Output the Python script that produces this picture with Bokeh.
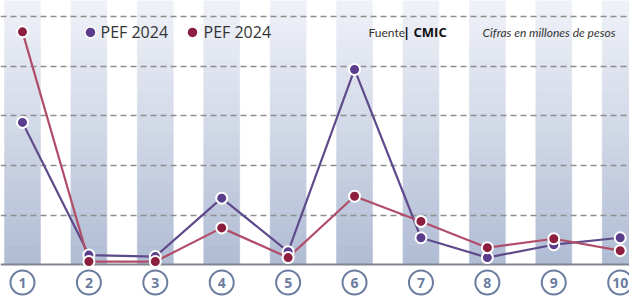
from bokeh.plotting import figure
from bokeh.models import Range1d, Label
from bokeh.embed import file_html
from bokeh.resources import INLINE
from bokeh.core.properties import value
import numpy as np

# ---- data ----
categories = [1, 2, 3, 4, 5, 6, 7, 8, 9, 10]
cat_labels = ["1", "2", "3", "4", "5", "6", "7", "8", "9", "10"]
series_purple = [2.87, 0.19, 0.16, 1.34, 0.26, 3.94, 0.54, 0.14, 0.40, 0.54]
series_red = [4.70, 0.06, 0.06, 0.74, 0.14, 1.38, 0.87, 0.34, 0.52, 0.28]
grid_levels = [1, 2, 3, 4, 5]
legend_names = ["PEF 2024", "PEF 2024"]

PURPLE = "#5a3d8c"
PURPLE_LINE = "#5f4b8b"
RED = "#8c1f40"
RED_LINE = "#b04d69"
SLATE = "#6b7c9f"

Y0, Y1 = -0.727, 5.333
p = figure(width=629, height=300, x_range=Range1d(0.669, 10.14), y_range=Range1d(Y0, Y1),
           output_backend="svg", toolbar_location=None, min_border=0,
           background_fill_color="white", border_fill_color="white")
p.outline_line_color = None
p.axis.visible = False
p.xgrid.visible = False
p.ygrid.visible = False

# gradient columns
n = 40
edges = np.linspace(0, Y1, n + 1)
bot_rgb = np.array([176, 188, 212])
top_rgb = np.array([240, 242, 248])
xs, bots, tops, cols = [], [], [], []
for k in range(n):
    t = (edges[k] + edges[k + 1]) / 2 / Y1
    c = (bot_rgb + (top_rgb - bot_rgb) * t).round().astype(int)
    col = "#%02x%02x%02x" % tuple(c)
    for x in categories:
        xs.append(x); bots.append(edges[k]); tops.append(edges[k + 1]); cols.append(col)
p.vbar(x=xs, bottom=bots, top=tops, width=0.54, fill_color=cols, line_color=cols, line_width=0.6)

# dashed grid
p.hspan(y=grid_levels, line_color="#8e8e8e", line_width=1.3, line_dash="6 4")
# baseline
p.hspan(y=[0], line_color="#80868f", line_width=2.2)

# lines
p.line(categories, series_purple, line_color=PURPLE_LINE, line_width=2.2)
p.line(categories, series_red, line_color=RED_LINE, line_width=2.2)
p.scatter(categories, series_purple, size=11, fill_color=PURPLE, line_color="white", line_width=2)
p.scatter(categories, series_red, size=11, fill_color=RED, line_color="white", line_width=2)

# circled category labels
lab_y = [-0.364] * len(categories)
p.scatter(categories, lab_y, size=24, fill_color="white", line_color=SLATE, line_width=2)
p.text(categories, lab_y, text=cat_labels, text_align="center", text_baseline="middle",
       text_font=value("Open Sans"), text_font_style="bold", text_font_size="14px", text_color=SLATE)

# legend
ly = 4.687
p.scatter([2.024, 3.56], [ly, ly], size=11, fill_color=[PURPLE, RED], line_color="white", line_width=1.5)
for x, name in zip([2.175, 3.726], legend_names):
    p.add_layout(Label(x=x, y=ly, text=name, text_baseline="middle", text_font="Open Sans",
                       text_font_size="16px", text_color="#333333"))

p.add_layout(Label(x=6.21, y=ly, text="Fuente", text_baseline="middle", text_font="Lato",
                   text_font_size="12px", text_color="#333333"))
p.add_layout(Label(x=6.73, y=ly, text="| CMIC", text_baseline="middle", text_font="Open Sans",
                   text_font_style="bold", text_font_size="13px", text_color="#111111"))
p.add_layout(Label(x=7.928, y=ly, text="Cifras en millones de pesos", text_baseline="middle",
                   text_font="Lato", text_font_style="italic", text_font_size="12px", text_color="#333333"))

open("out.html", "w").write(file_html(p, INLINE))
